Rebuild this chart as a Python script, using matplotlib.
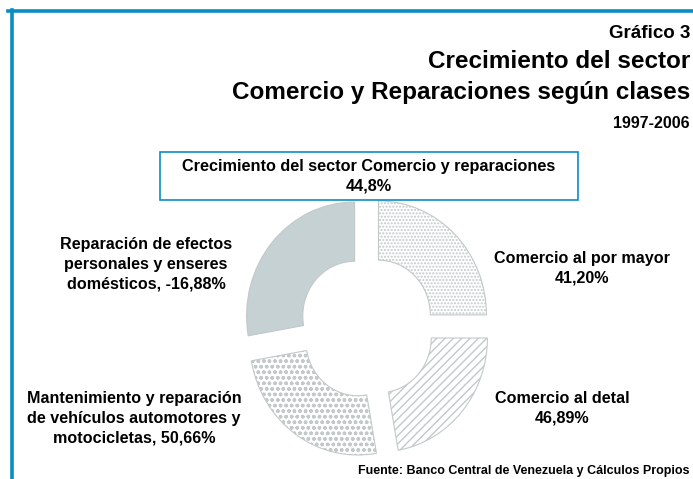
import matplotlib
matplotlib.use("Agg")
import matplotlib.pyplot as plt
from matplotlib.patches import Rectangle

plt.rcParams['font.family'] = ['Liberation Sans', 'DejaVu Sans']
plt.rcParams['hatch.linewidth'] = 1.0

# data
categories = ["Comercio al por mayor", "Comercio al detal",
              "Mantenimiento y reparación\nde vehículos automotores y\nmotocicletas",
              "Reparación de efectos\npersonales y enseres\ndomésticos"]
growth = [41.20, 46.89, 50.66, -16.88]
shares = [90, 80, 90, 100]          # slice sizes as drawn
total_growth = 44.8

fills = ['white', 'white', 'white', '#c5d1d2']
hatches = ['.....', '////', 'ooo', None]
blue = '#0a8dc3'

W, H = 693, 479
fig = plt.figure(figsize=(W / 100, H / 100), dpi=100)


def fx(x):
    return x / W


def fy(y):
    return 1 - y / H


# frame lines (top and left)
fig.add_artist(plt.Line2D([fx(8), 1], [fy(11), fy(11)], color=blue, lw=2.6))
fig.add_artist(plt.Line2D([fx(11.5), fx(11.5)], [fy(10), 0], color=blue, lw=2.6))

# titles
fig.text(fx(690), fy(34), "Gráfico 3", ha='right', va='center', fontsize=13.5, fontweight='bold')
fig.text(fx(690), fy(62), "Crecimiento del sector", ha='right', va='center', fontsize=17.5, fontweight='bold')
fig.text(fx(690), fy(92), "Comercio y Reparaciones según clases", ha='right', va='center',
         fontsize=17.5, fontweight='bold')
fig.text(fx(690), fy(124), "1997-2006", ha='right', va='center', fontsize=11.5, fontweight='bold')

# donut (slightly taller than wide, as in the source)
cx, cy, rx, ry = 367, 327, 108, 114
lim = 1.3
ax = fig.add_axes([fx(cx - lim * rx), fy(cy + lim * ry), lim * rx * 2 / W, lim * ry * 2 / H])
wedges, _ = ax.pie(shares, startangle=90, counterclock=False, explode=[0.15] * 4,
                   colors=fills, wedgeprops=dict(width=0.52, linewidth=0.8))
for w, h in zip(wedges, hatches):
    w.set_edgecolor('#c3c9c9')
    if h:
        w.set_hatch(h)
ax.set_xlim(-lim, lim)
ax.set_ylim(-lim, lim)
ax.set_aspect('auto')
ax.axis('off')

# total box
fig.add_artist(Rectangle((fx(160), fy(200)), fx(578) - fx(160), fy(152) - fy(200),
                         transform=fig.transFigure, fc='white', ec=blue, lw=1.2))
fig.text(fx(369), fy(176), f"Crecimiento del sector Comercio y reparaciones\n{total_growth:.1f}%".replace('.', ','),
         ha='center', va='center', fontsize=11.7, fontweight='bold', linespacing=1.35)


def pct(v):
    return f"{v:.2f}%".replace('.', ',')


# slice labels
lab = dict(ha='center', va='center', fontsize=11.6, fontweight='bold', linespacing=1.4)
fig.text(fx(582), fy(268), f"{categories[0]}\n{pct(growth[0])}", **lab)
fig.text(fx(562), fy(408), f"{categories[1]}\n{pct(growth[1])}", **lab)
fig.text(fx(134), fy(418), f"{categories[2]}, {pct(growth[2])}", **lab)
fig.text(fx(146), fy(264), f"{categories[3]}, {pct(growth[3])}", **lab)

fig.text(fx(690), fy(471), "Fuente: Banco Central de Venezuela y Cálculos Propios", ha='right', va='center',
         fontsize=9, fontweight='bold')

fig.savefig("out.png", dpi=100)
